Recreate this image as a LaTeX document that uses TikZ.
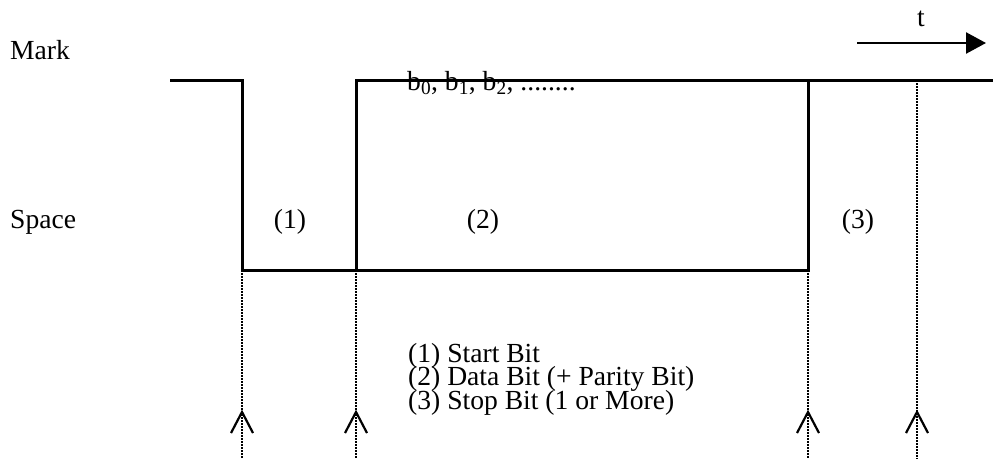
\documentclass[tikz,border=0pt]{standalone}
\usepackage{fontspec}
\setmainfont{Liberation Serif}
\usetikzlibrary{arrows.meta}
\begin{document}
\begin{tikzpicture}[x=1pt,y=-1pt,
  lbl/.style={inner sep=0pt,anchor=base west,font=\fontsize{27.6}{23.5}\selectfont},
  lblc/.style={inner sep=0pt,anchor=base,font=\fontsize{27.6}{23.5}\selectfont},
  wave/.style={line width=3pt,line join=miter},
  guide/.style={line width=1.8pt,dash pattern=on 1.5pt off 1.5pt},
  caret/.style={line width=2.2pt}]
\useasboundingbox (0,0) rectangle (995,459);
% labels
\node[lbl] (mark) at (10,59) {Mark};
\node[lbl] (space) at (10,228) {Space};
\node[lblc] (p1) at (290,228) {(1)};
\node[lblc] (p2) at (483,228) {(2)};
\node[lblc] (p3) at (858,228) {(3)};
\node[lblc] (t) at (921,26) {t};
\node[lbl] (bits) at (407,90) {b\textsubscript{0}, b\textsubscript{1}, b\textsubscript{2}, ........};
\node[lbl] (leg1) at (408,362) {(1) Start Bit};
\node[lbl] (leg2) at (408,385.5) {(2) Data Bit (+ Parity Bit)};
\node[lbl] (leg3) at (408,409) {(3) Stop Bit (1 or More)};
% waveform coordinates
\coordinate (a0) at (170,80);
\coordinate (a1) at (242,80);
\coordinate (a2) at (242,270);
\coordinate (a3) at (356,270);
\coordinate (a4) at (356,80);
\coordinate (a5) at (993,80);
\coordinate (b1) at (808,80);
\coordinate (b2) at (808,270);
\draw[wave] (a0) -- (a1) -- (a2) -- (a3) -- (a4) -- (a5);
\draw[wave] (b1) -- (b2) -- (a3);
% guides
\coordinate (g1) at (242,459);
\coordinate (g2) at (356,459);
\coordinate (g3) at (808,459);
\coordinate (g4t) at (917,80);
\coordinate (g4) at (917,459);
\draw[guide] (a2) -- (g1);
\draw[guide] (a3) -- (g2);
\draw[guide] (b2) -- (g3);
\draw[guide] (g4t) -- (g4);
% carets
\foreach \cx in {242,356,808,917}{
  \draw[caret] (\cx-11,433) -- (\cx,412) -- (\cx+11,433);
}
% time arrow
\coordinate (ts) at (857,43);
\coordinate (te) at (986,43);
\draw[line width=2.4pt,-{Triangle[length=20pt,width=21pt]}] (ts) -- (te);
\end{tikzpicture}
\end{document}
